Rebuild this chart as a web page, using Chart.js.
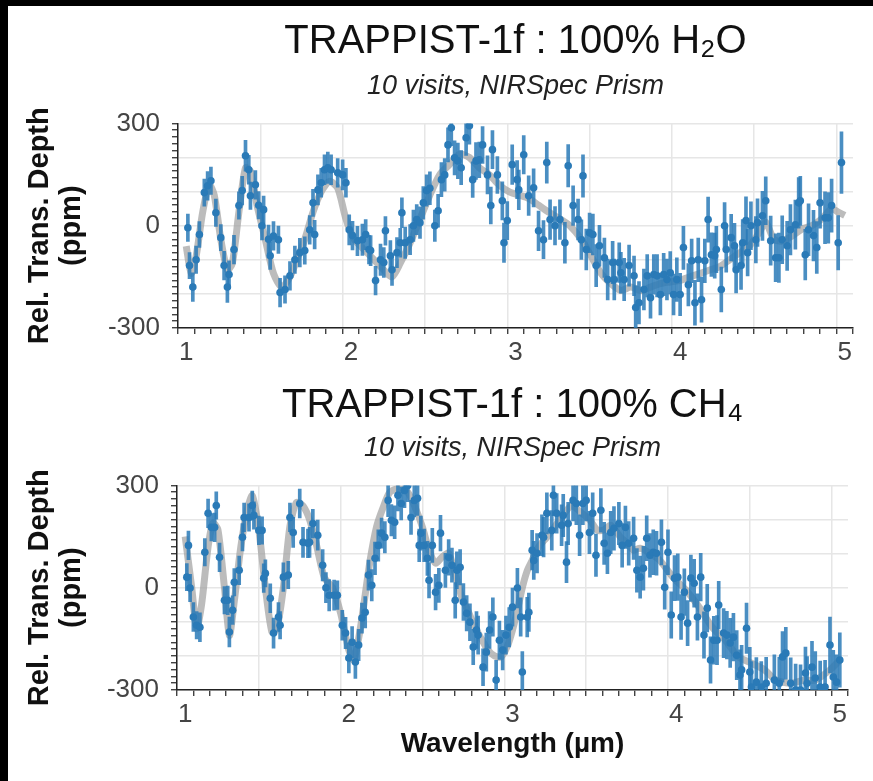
<!DOCTYPE html>
<html>
<head>
  <title>TRAPPIST-1f transmission spectra</title>
  <script src="https://cdn.jsdelivr.net/npm/chart.js"></script>
  <style>
    body { margin: 0; background: #000; }
    #page { position: absolute; left: 8px; top: 6px; width: 865px; height: 775px; background: #fff; }
    .panel { position: absolute; left: 0; width: 865px; }
    #topPanel { top: 0; height: 360px; }
    #bottomPanel { top: 360px; height: 415px; }
  </style>
</head>
<body>
  <div id="page">
    <div class="panel" id="topPanel"><canvas id="h2oChart"></canvas></div>
    <div class="panel" id="bottomPanel"><canvas id="ch4Chart"></canvas></div>
  </div>

  <script>
    // 100% H2O atmosphere: simulated NIRSpec prism points (ppm) with 1-sigma errors
    const h2oWl = [
      1.01, 1.02, 1.04, 1.06, 1.08, 1.11, 1.13, 1.15, 1.18, 1.21,
      1.23, 1.25, 1.26, 1.29, 1.32, 1.34, 1.36, 1.38, 1.39, 1.42,
      1.44, 1.46, 1.47, 1.50, 1.51, 1.53, 1.56, 1.57, 1.60, 1.63,
      1.66, 1.69, 1.72, 1.75, 1.77, 1.78, 1.80, 1.82, 1.84, 1.86,
      1.88, 1.92, 1.95, 1.97, 1.99, 2.01, 2.04, 2.07, 2.09, 2.11,
      2.12, 2.15, 2.18, 2.20, 2.21, 2.24, 2.25, 2.28, 2.30, 2.31,
      2.33, 2.36, 2.38, 2.40, 2.42, 2.44, 2.46, 2.48, 2.51, 2.53,
      2.55, 2.57, 2.59, 2.61, 2.63, 2.65, 2.67, 2.70, 2.72, 2.74,
      2.76, 2.78, 2.80, 2.83, 2.85, 2.86, 2.89, 2.92, 2.93, 2.95,
      2.98, 3.01, 3.02, 3.05, 3.08, 3.11, 3.14, 3.17, 3.19, 3.21,
      3.24, 3.27, 3.30, 3.32, 3.35, 3.38, 3.40, 3.41, 3.43, 3.45,
      3.47, 3.49, 3.51, 3.54, 3.56, 3.59, 3.60, 3.63, 3.64, 3.66,
      3.69, 3.72, 3.73, 3.75, 3.78, 3.80, 3.82, 3.84, 3.86, 3.88,
      3.90, 3.92, 3.94, 3.96, 3.98, 4.00, 4.02, 4.05, 4.07, 4.09,
      4.11, 4.13, 4.15, 4.17, 4.19, 4.21, 4.22, 4.25, 4.27, 4.28,
      4.31, 4.33, 4.34, 4.37, 4.38, 4.40, 4.41, 4.43, 4.46, 4.47,
      4.50, 4.52, 4.55, 4.58, 4.60, 4.62, 4.65, 4.67, 4.70, 4.72,
      4.73, 4.76, 4.78, 4.81, 4.83, 4.85, 4.88, 4.90, 4.92, 4.96,
      4.98
    ];
    const h2oDepth = [
      -6, -117, -180, -100, -26, 97, 117, 132, 38, -35,
      -117, -180, -143, -70, 59, 103, 205, 164, 88, 120,
      60, 0, 47, -40, -88, -30, -41, -196, -187, -147,
      -100, -79, -73, -12, 67, -26, 105, 126, 164, 170,
      164, 155, 149, 126, -12, -29, -44, -41, -26, -70,
      -73, -161, -100, -108, -15, -88, -129, -79, -50, 38,
      -50, -41, 0, 18, 9, 67, 103, 110, 0, 44,
      135, 149, 237, 287, 199, 190, 170, 258, 293, 135,
      190, 193, 237, 149, 59, 223, 149, 73, -50, 15,
      179, 135, 105, 208, 88, 111, -15, -41, 185, 18,
      0, 18, -50, 176, 59, 18, -41, 146, -70, -21,
      -26, -117, -59, -94, -158, -108, -158, -108, -138, -158,
      -117, -147, -240, -226, -187, -147, -211, -143, -147, -202,
      -143, -158, -138, -202, -158, -202, -64, -173, -103, -226,
      -100, -217, -103, 18, -85, -88, -70, -187, 0, -70,
      -35, -59, -129, -117, -50, 15, -79, 0, -41, 9,
      29, 73, -44, -94, -94, -41, -59, -12, 3, 67,
      73, -85, -12, -29, -64, 67, 23, 23, 59, -50,
      185
    ];
    const h2oErr = [
      40, 38, 42, 40, 38, 40, 42, 40, 40, 38,
      42, 45, 40, 42, 40, 42, 45, 42, 40, 42,
      40, 42, 40, 42, 40, 42, 40, 42, 40, 42,
      40, 42, 40, 42, 40, 42, 44, 42, 44, 46,
      44, 42, 44, 42, 44, 42, 44, 46, 44, 42,
      44, 42, 46, 44, 42, 44, 46, 44, 42, 44,
      46, 44, 46, 44, 46, 48, 46, 48, 46, 48,
      50, 48, 50, 52, 50, 52, 50, 52, 54, 52,
      54, 52, 54, 56, 54, 56, 54, 56, 58, 56,
      58, 56, 58, 56, 58, 56, 58, 56, 60, 58,
      56, 58, 60, 62, 58, 60, 58, 62, 60, 58,
      60, 62, 60, 58, 60, 62, 60, 58, 60, 62,
      60, 58, 64, 62, 60, 62, 60, 58, 62, 60,
      62, 60, 62, 60, 64, 62, 64, 62, 64, 66,
      64, 66, 64, 66, 64, 66, 68, 66, 68, 66,
      68, 66, 68, 70, 68, 70, 68, 70, 68, 70,
      72, 70, 72, 70, 72, 70, 72, 74, 72, 74,
      72, 74, 76, 74, 76, 74, 76, 74, 78, 80,
      90
    ];
    // 100% H2O forward model (grey band)
    const h2oModelWl = [
      1.00, 1.03, 1.06, 1.10, 1.14, 1.17, 1.21, 1.25, 1.28, 1.32,
      1.36, 1.39, 1.43, 1.48, 1.53, 1.58, 1.63, 1.68, 1.72, 1.77,
      1.82, 1.87, 1.92, 1.97, 2.02, 2.08, 2.14, 2.20, 2.25, 2.30,
      2.36, 2.42, 2.48, 2.54, 2.60, 2.66, 2.72, 2.78, 2.84, 2.90,
      2.96, 3.02, 3.08, 3.14, 3.20, 3.27, 3.33, 3.40, 3.46, 3.52,
      3.58, 3.64, 3.70, 3.76, 3.82, 3.88, 3.94, 4.00, 4.06, 4.12,
      4.18, 4.24, 4.30, 4.36, 4.42, 4.48, 4.52, 4.57, 4.62, 4.68,
      4.74, 4.80, 4.86, 4.92, 4.96, 5.00
    ];
    const h2oModel = [
      -60, -140, -90, 40, 120, 90, -40, -130, -110, 40,
      170, 160, 60, -40, -140, -180, -150, -90, -40, 40,
      100, 130, 110, 20, -40, -70, -100, -130, -150, -110,
      -50, 20, 90, 150, 180, 210, 200, 170, 150, 120,
      100, 90, 80, 60, 40, 20, 0, -40, -90, -140,
      -170, -190, -180, -190, -180, -170, -165, -160, -150, -140,
      -130, -120, -100, -80, -60, -20, 10, -40, -45, -30,
      -10, 0, 20, 50, 40, 30
    ];

    // 100% CH4 atmosphere
    const ch4Wl = [
      1.01, 1.02, 1.03, 1.05, 1.07, 1.09, 1.12, 1.14, 1.16, 1.18,
      1.19, 1.21, 1.24, 1.26, 1.27, 1.29, 1.30, 1.33, 1.35, 1.36,
      1.39, 1.41, 1.42, 1.45, 1.47, 1.48, 1.49, 1.52, 1.54, 1.57,
      1.58, 1.60, 1.63, 1.64, 1.66, 1.70, 1.72, 1.75, 1.76, 1.78,
      1.81, 1.84, 1.86, 1.88, 1.91, 1.93, 1.96, 1.98, 2.00, 2.02,
      2.04, 2.06, 2.08, 2.10, 2.12, 2.14, 2.16, 2.18, 2.20, 2.22,
      2.24, 2.26, 2.28, 2.30, 2.32, 2.34, 2.36, 2.38, 2.40, 2.42,
      2.43, 2.44, 2.46, 2.48, 2.49, 2.51, 2.53, 2.55, 2.56, 2.59,
      2.61, 2.63, 2.65, 2.66, 2.68, 2.70, 2.72, 2.74, 2.76, 2.78,
      2.79, 2.82, 2.84, 2.86, 2.88, 2.90, 2.92, 2.94, 2.96, 2.98,
      3.00, 3.03, 3.05, 3.06, 3.09, 3.10, 3.12, 3.13, 3.15, 3.18,
      3.19, 3.21, 3.24, 3.25, 3.27, 3.30, 3.31, 3.33, 3.34, 3.37,
      3.39, 3.41, 3.43, 3.45, 3.47, 3.49, 3.51, 3.54, 3.56, 3.58,
      3.60, 3.62, 3.65, 3.67, 3.69, 3.71, 3.74, 3.76, 3.78, 3.80,
      3.82, 3.84, 3.86, 3.88, 3.91, 3.93, 3.95, 3.97, 3.99, 4.01,
      4.03, 4.05, 4.07, 4.09, 4.11, 4.13, 4.15, 4.17, 4.19, 4.21,
      4.23, 4.25, 4.26, 4.29, 4.31, 4.33, 4.35, 4.37, 4.39, 4.40,
      4.43, 4.45, 4.46, 4.49, 4.52, 4.55, 4.60, 4.63, 4.65, 4.67,
      4.70, 4.73, 4.76, 4.79, 4.80, 4.83, 4.85, 4.88, 4.91, 4.94,
      4.96, 4.98, 5.00
    ];
    const ch4Depth = [
      31, 124, -1, -86, -110, -116, 104, 218, 177, 177,
      241, 89, -37, -37, -130, -66, 16, 51, 148, 206,
      206, 241, 212, 168, 168, 28, 42, -31, -133, -86,
      -110, 31, 37, 206, 162, 247, 133, 130, 133, 188,
      154, 66, 0, -22, -22, -22, -110, -133, -206, -160,
      -218, -168, -89, -72, 37, 7, 86, 124, 160, 148,
      256, 198, 192, 271, 247, 285, 300, 206, 256, 262,
      124, 160, 124, 86, 22, 124, -13, 7, 160, 51,
      89, 66, -37, 51, 60, -42, -75, -101, -174, -124,
      -139, -233, -189, -124, -86, -271, -154, -183, -139, -116,
      -57, -1, -86, -247, -86, -72, 110, 80, 101, 154,
      148, 218, 168, 271, 218, 183, 212, 75, 188, 256,
      247, 154, 247, 256, 162, 218, 95, 227, 130, 101,
      162, 174, 188, 124, 177, 130, 145, 51, 31, 57,
      145, 95, 104, 101, 133, 1, 104, -80, 28, 31,
      -86, -13, -104, 28, 13, -86, 31, -139, -60, -212,
      -154, -154, -51, -133, -139, -162, -145, -198, -256, -241,
      -119, -247, -291, -277, -291, -280, -271, -280, -203, -192,
      -280, -300, -300, -250, -280, -233, -265, -291, -291, -168,
      -262, -277, -212
    ];
    const ch4Err = [
      40, 42, 40, 42, 40, 42, 40, 42, 40, 42,
      40, 42, 40, 42, 44, 42, 40, 42, 40, 42,
      40, 42, 40, 42, 40, 42, 40, 42, 44, 42,
      40, 42, 40, 42, 44, 42, 44, 42, 44, 42,
      44, 46, 44, 46, 44, 42, 44, 46, 44, 46,
      48, 46, 44, 46, 44, 46, 48, 46, 44, 46,
      48, 46, 48, 46, 48, 50, 48, 50, 48, 50,
      48, 50, 48, 50, 52, 50, 52, 50, 52, 50,
      52, 50, 52, 54, 52, 54, 52, 54, 52, 54,
      56, 54, 56, 54, 56, 58, 56, 58, 56, 58,
      56, 58, 56, 60, 58, 56, 58, 56, 58, 60,
      58, 60, 58, 60, 58, 60, 62, 60, 62, 60,
      62, 60, 62, 60, 62, 60, 62, 64, 62, 60,
      62, 64, 62, 64, 62, 64, 62, 64, 62, 64,
      66, 64, 66, 64, 66, 64, 66, 68, 66, 68,
      66, 68, 66, 68, 70, 68, 70, 68, 70, 68,
      70, 72, 70, 72, 70, 72, 70, 72, 74, 72,
      74, 72, 74, 72, 74, 76, 74, 76, 74, 76,
      74, 76, 74, 76, 78, 76, 78, 76, 78, 82,
      78, 80, 80
    ];
    const ch4ModelWl = [
      1.00, 1.04, 1.07, 1.10, 1.14, 1.17, 1.20, 1.24, 1.27, 1.30,
      1.34, 1.38, 1.41, 1.45, 1.49, 1.53, 1.56, 1.60, 1.64, 1.68,
      1.72, 1.76, 1.80, 1.85, 1.90, 1.95, 2.00, 2.03, 2.07, 2.13,
      2.17, 2.21, 2.25, 2.30, 2.36, 2.41, 2.45, 2.49, 2.53, 2.57,
      2.61, 2.65, 2.69, 2.73, 2.77, 2.81, 2.85, 2.89, 2.93, 2.97,
      3.00, 3.03, 3.06, 3.09, 3.12, 3.16, 3.21, 3.26, 3.30, 3.36,
      3.42, 3.47, 3.52, 3.56, 3.60, 3.66, 3.70, 3.74, 3.78, 3.84,
      3.90, 3.98, 4.06, 4.14, 4.22, 4.30, 4.38, 4.46, 4.54, 4.61,
      4.70, 4.78, 4.85, 4.94, 5.00
    ];
    const ch4Model = [
      150, 0, -120, -50, 120, 190, 170, 0, -140, -40,
      120, 230, 270, 170, 0, -130, -120, 0, 180, 250,
      240, 200, 130, 30, 0, -75, -183, -212, -120, 80,
      180, 236, 280, 290, 280, 230, 177, 110, 72, 90,
      101, 40, -28, -70, -116, -150, -183, -200, -203, -170,
      -124, -66, 0, 50, 80, 120, 148, 180, 206, 240,
      220, 200, 168, 170, 183, 148, 130, 110, 116, 101,
      80, 31, -7, -57, -116, -154, -203, -221, -241, -271,
      -280, -271, -271, -241, -212
    ];

    const xLabelValues = [1, 2, 3, 4, 5];
    const yLabelValues = [-300, 0, 300];

    const BLUE = '#2a7ab7';
    const BLUE_BAR = 'rgba(42, 122, 183, 0.85)';
    const MODEL_GREY = 'rgba(160, 160, 160, 0.7)';
    const GRID_GREY = '#e6e6e6';
    const AXIS_BLACK = '#222';
    const FONT = "'Liberation Sans', Arial, sans-serif";

    function isLabelTick(list, v) {
      return list.some(t => Math.abs(t - v) < 1e-6);
    }

    function buildPanel(canvasId, p) {
      const points = p.wl.map((x, i) => ({ x: x, y: p.depth[i] }));
      const bars = p.wl.map((x, i) => ({ x: x, y: [p.depth[i] - p.err[i], p.depth[i] + p.err[i]] }));
      const model = p.modelWl.map((x, i) => ({ x: x, y: p.model[i] }));

      const xAxis = {
        type: 'linear',
        min: 1,
        max: 5,
        afterFit: s => { s.height = p.xHeight; },
        border: { display: true, color: AXIS_BLACK, width: 1.5 },
        grid: {
          color: c => (c.tick && Math.abs(c.tick.value * 2 - Math.round(c.tick.value * 2)) < 1e-6) ? GRID_GREY : 'transparent',
          lineWidth: 1.5,
          tickColor: AXIS_BLACK,
          tickLength: 6,
          tickWidth: 1.2
        },
        ticks: {
          stepSize: 0.1,
          autoSkip: false,
          maxRotation: 0,
          padding: 3,
          color: '#444',
          font: { family: FONT, size: 26 },
          callback: v => isLabelTick(xLabelValues, v) ? String(Math.round(v)) : ''
        },
        title: p.xTitle ? {
          display: true,
          text: 'Wavelength (µm)',
          color: '#111',
          font: { family: FONT, size: 28, weight: 'bold' },
          padding: { top: 0, bottom: 20 }
        } : { display: false }
      };

      const yAxis = {
        type: 'linear',
        min: -300,
        max: 300,
        afterFit: s => { s.width = p.yWidth; },
        border: { display: true, color: AXIS_BLACK, width: 1.5 },
        grid: {
          color: c => (c.tick && Math.round(c.tick.value) % 100 === 0) ? GRID_GREY : 'transparent',
          lineWidth: 1.5,
          tickColor: AXIS_BLACK,
          tickLength: 6,
          tickWidth: 1.2
        },
        ticks: {
          stepSize: 20,
          autoSkip: false,
          padding: 12,
          color: '#444',
          font: { family: FONT, size: 26 },
          callback: v => isLabelTick(yLabelValues, v) ? String(Math.round(v)) : ''
        },
        title: {
          display: true,
          text: ['Rel. Trans. Depth', '(ppm)'],
          color: '#111',
          font: { family: FONT, size: 29, weight: 'bold', lineHeight: 1.1 },
          padding: { top: 16, bottom: 0 }
        }
      };

      return new Chart(document.getElementById(canvasId), {
        type: 'scatter',
        data: {
          datasets: [
            { type: 'scatter', data: points, pointRadius: 3.8, pointBackgroundColor: BLUE, pointBorderWidth: 0, order: 0 },
            { type: 'bar', data: bars, backgroundColor: BLUE_BAR, borderWidth: 0, barThickness: 3, grouped: false, order: 1 },
            { type: 'line', data: model, showLine: true, borderColor: MODEL_GREY, borderWidth: 7, pointRadius: 0, tension: 0.25, order: 2 }
          ]
        },
        options: {
          responsive: true,
          maintainAspectRatio: false,
          animation: false,
          devicePixelRatio: 1,
          layout: { padding: { left: 0, right: p.padRight, top: 0, bottom: 0 } },
          scales: { x: xAxis, y: yAxis },
          plugins: {
            legend: { display: false },
            tooltip: { enabled: false },
            title: {
              display: true,
              fullSize: false,
              text: p.title,
              color: '#111',
              font: { family: FONT, size: 40, weight: 'normal', lineHeight: 1.2 },
              padding: { top: p.titleTop, bottom: 0 }
            },
            subtitle: {
              display: true,
              fullSize: false,
              text: '10 visits, NIRSpec Prism',
              color: '#222',
              font: { family: FONT, size: 27, style: 'italic', lineHeight: 1.2 },
              padding: { top: p.subTop, bottom: p.subBottom }
            }
          }
        }
      });
    }

    buildPanel('h2oChart', {
      title: 'TRAPPIST-1f : 100% H₂O',
      wl: h2oWl, depth: h2oDepth, err: h2oErr,
      modelWl: h2oModelWl, model: h2oModel,
      padRight: 20, yWidth: 170, xHeight: 38, xTitle: false,
      titleTop: 12, subTop: 4, subBottom: 21
    });

    buildPanel('ch4Chart', {
      title: 'TRAPPIST-1f : 100% CH₄',
      wl: ch4Wl, depth: ch4Depth, err: ch4Err,
      modelWl: ch4ModelWl, model: ch4Model,
      padRight: 25, yWidth: 169, xHeight: 91, xTitle: true,
      titleTop: 16, subTop: 2, subBottom: 21
    });
  </script>
</body>
</html>
